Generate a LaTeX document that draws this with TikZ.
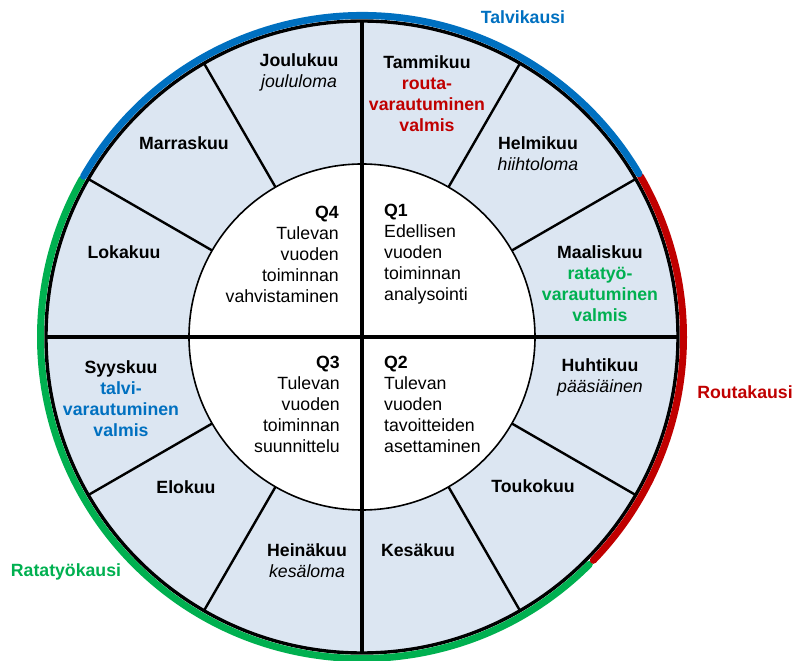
\documentclass[tikz,border=0pt]{standalone}
\usepackage{fontspec}
\setmainfont{Liberation Sans}
\definecolor{ringfill}{HTML}{DCE6F2}
\definecolor{winterblue}{HTML}{0070C0}
\definecolor{frostred}{HTML}{C00000}
\definecolor{trackgreen}{HTML}{00B050}

\begin{document}
\begin{tikzpicture}[x=1pt,y=1pt,
  txt/.style={font=\fontsize{17.7}{21}\selectfont, inner sep=0pt, align=center},
  qtext/.style={txt},
  divider/.style={line width=2.4pt},
  axis/.style={line width=3.4pt},
  rim/.style={line width=3.4pt},
  innerline/.style={line width=1.6pt},
  season/.style={line width=7pt, line cap=round},
  seasonlabel/.style={txt, font=\fontsize{17.7}{21}\selectfont\bfseries}]

\useasboundingbox (-362,-324) rectangle (431,337);
\coordinate (C) at (0,0);

% month ring
\fill[ringfill, even odd rule] (C) circle[radius=316pt] (C) circle[radius=173pt];

% month dividers
\foreach \a in {30,60,120,150,210,240,300,330}
  \draw[divider] (\a:173pt) -- (\a:316pt);

\draw[innerline] (C) circle[radius=173pt];
\draw[axis] (-316,0) -- (316,0);
\draw[axis] (0,-316) -- (0,316);
\draw[rim] (C) circle[radius=316pt];

% season arcs outside the ring
\draw[season, trackgreen] (-45:321.5pt) arc[start angle=-45, end angle=-209.5, radius=321.5pt];
\draw[season, frostred] (30:321.5pt) arc[start angle=30, end angle=-44, radius=321.5pt];
\draw[season, winterblue] (150:321.5pt) arc[start angle=150, end angle=30.5, radius=321.5pt];

% season labels
\node[seasonlabel, text=winterblue] (talvi) at (161,320) {Talvikausi};
\node[seasonlabel, text=frostred] (routa) at (383,-55) {Routakausi};
\node[seasonlabel, text=trackgreen] (rata) at (-296,-235) {Ratatyökausi};

% months
\node[txt] (jan) at (65,243.5) {\textbf{Tammikuu}\\\textcolor{frostred}{\textbf{routa-}}\\\textcolor{frostred}{\textbf{varautuminen}}\\\textcolor{frostred}{\textbf{valmis}}};
\node[txt] (feb) at (176,183.5) {\textbf{Helmikuu}\\\textit{hiihtoloma}};
\node[txt] (mar) at (238,53.5) {\textbf{Maaliskuu}\\\textcolor{trackgreen}{\textbf{ratatyö-}}\\\textcolor{trackgreen}{\textbf{varautuminen}}\\\textcolor{trackgreen}{\textbf{valmis}}};
\node[txt] (apr) at (238,-40) {\textbf{Huhtikuu}\\\textit{pääsiäinen}};
\node[txt] (may) at (171,-149) {\textbf{Toukokuu}};
\node[txt] (jun) at (56,-213) {\textbf{Kesäkuu}};
\node[txt] (jul) at (-55,-224) {\textbf{Heinäkuu}\\\textit{kesäloma}};
\node[txt] (aug) at (-176,-150) {\textbf{Elokuu}};
\node[txt] (sep) at (-241,-61.5) {\textbf{Syyskuu}\\\textcolor{winterblue}{\textbf{talvi-}}\\\textcolor{winterblue}{\textbf{varautuminen}}\\\textcolor{winterblue}{\textbf{valmis}}};
\node[txt] (oct) at (-238,85) {\textbf{Lokakuu}};
\node[txt] (nov) at (-178,194) {\textbf{Marraskuu}};
\node[txt] (dec) at (-63,264.5) {\textbf{Joulukuu}\\\textit{joululoma}};

% quarters
\node[qtext, anchor=west, align=left] (q1) at (22,82.5) {\textbf{Q1}\\Edellisen\\vuoden\\toiminnan\\analysointi};
\node[qtext, anchor=west, align=left] (q2) at (22,-67.5) {\textbf{Q2}\\Tulevan\\vuoden\\tavoitteiden\\asettaminen};
\node[qtext, anchor=east, align=right] (q3) at (-22,-67.5) {\textbf{Q3}\\Tulevan\\vuoden\\toiminnan\\suunnittelu};
\node[qtext, anchor=east, align=right] (q4) at (-23,82.5) {\textbf{Q4}\\Tulevan\\vuoden\\toiminnan\\vahvistaminen};

\end{tikzpicture}
\end{document}
